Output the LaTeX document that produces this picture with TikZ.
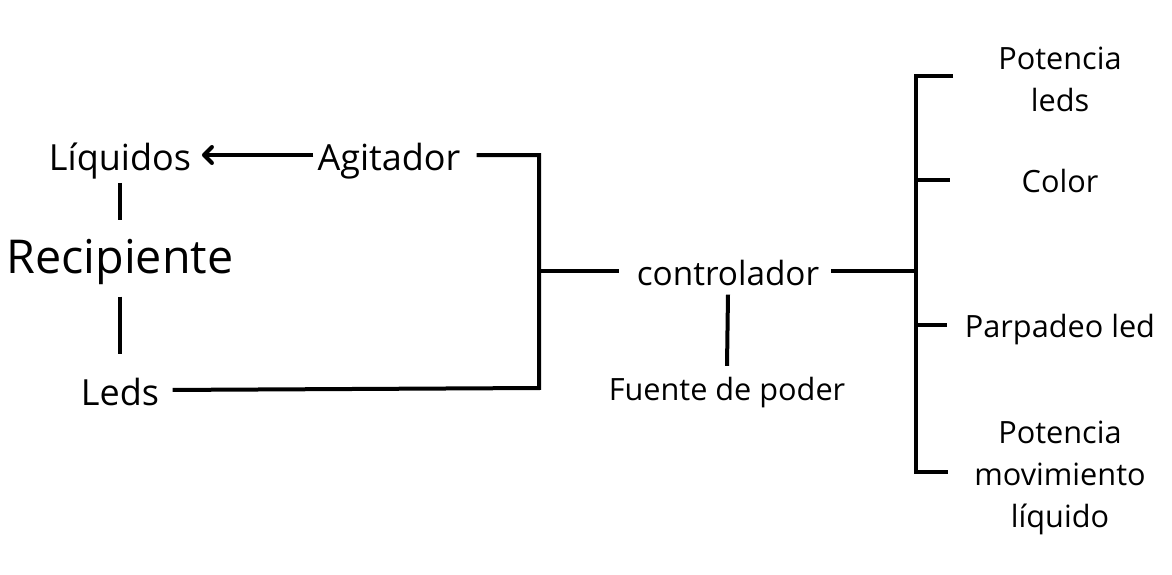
\documentclass[tikz,border=0pt]{standalone}
\usepackage{fontspec}
\setmainfont{Open Sans}
\usetikzlibrary{arrows.meta}

\begin{document}
\begin{tikzpicture}[x=0.75pt,y=-0.75pt]
      \tikzstyle{lbl} = [inner sep=3pt,font=\fontsize{#1}{#1}\selectfont,text height=#1pt,text depth=0.16*#1pt]
      \tikzstyle{rlbl} = [inner sep=0pt,align=center,anchor=base,font=\fontsize{23}{31.5}\selectfont]
      \tikzstyle{sedge} = [line width=3pt,draw=black]
      \useasboundingbox (0,0) rectangle (1172,575);
      \node[lbl=27] (liq) at (120,155) {Líquidos};
      \node[lbl=27] (agit) at (389,155) {Agitador};
      \node[lbl=35] (rec) at (120,254) {Recipiente};
      \node[lbl=27] (leds) at (120,390) {Leds};
      \node[lbl=25] (ctrl) at (728,271) {controlador};
      \node[lbl=23] (fuente) at (727,388) {Fuente de poder};
      \node[rlbl] (potl) at (1060,111) {Potencia\\leds};
      \node[rlbl] (color) at (1060,192) {Color};
      \node[rlbl] (parp) at (1060,337) {Parpadeo led};
      \node[rlbl] (potm) at (1060,527) {Potencia\\movimiento\\líquido};
      \coordinate (jt) at (539,155);
      \coordinate (jm) at (539,271);
      \coordinate (jb) at (539,388);
      \coordinate (bt) at (916,76);
      \coordinate (b2) at (916,180);
      \coordinate (bm) at (916,271);
      \coordinate (b3) at (916,325);
      \coordinate (bb) at (916,472);
      \coordinate (e1) at (953,76);
      \coordinate (e2) at (950,180);
      \coordinate (e3) at (947,325);
      \coordinate (e4) at (948,472);
      \draw[sedge,shorten >=5pt,-{Straight Barb[length=6pt,width=12pt,round]}] (agit.west) -- (liq.east);
      \draw[sedge,shorten <=2pt,shorten >=2pt] (liq.south) -- (rec.north);
      \draw[sedge,shorten <=8.5pt,shorten >=8pt] (rec.south) -- (leds.north);
      \draw[sedge,shorten <=9pt,shorten >=7pt] (agit.east) -- (jt) -- (jb) -- (leds.east);
      \draw[sedge,shorten >=10pt] (jm) -- (ctrl.west);
      \draw[sedge,shorten <=6pt] (ctrl.east) -- (bm);
      \draw[sedge] (ctrl.south) -- (fuente.north);
      \draw[sedge] (e1) -- (bt) -- (bb) -- (e4);
      \draw[sedge] (b2) -- (e2);
      \draw[sedge] (b3) -- (e3);
    \end{tikzpicture}
\end{document}
